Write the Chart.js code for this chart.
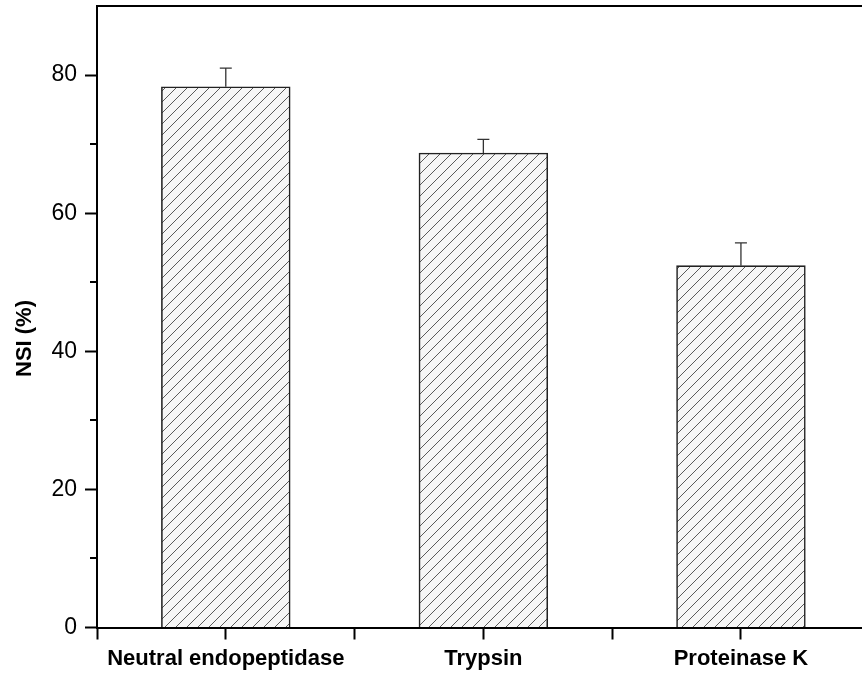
<!DOCTYPE html>
<html><head><meta charset="utf-8">
<script src="https://cdn.jsdelivr.net/npm/chart.js@4"></script>
<style>html,body{margin:0;padding:0;background:#fff;overflow:hidden}</style>
</head><body>
<canvas id="c" width="862" height="677"></canvas>
<script>
const categories = ['Neutral endopeptidase', 'Trypsin', 'Proteinase K'];
const xPositions = [1, 3, 5];
const nsiValues = [78.3, 68.7, 52.4];
const nsiErrors = [2.7, 2.0, 3.3];
const yMajorTicks = [0, 20, 40, 60, 80];
const yMinorTicks = [10, 30, 50, 70];
const yTitle = 'NSI (%)';

const FONT = "'Liberation Sans', Arial, sans-serif";

function hatchPattern() {
  const s = 11;
  const c = document.createElement('canvas');
  c.width = s; c.height = s;
  const g = c.getContext('2d');
  g.fillStyle = '#f6f6f6';
  g.fillRect(0, 0, s, s);
  g.strokeStyle = '#5a5a5a';
  g.lineWidth = 1;
  g.beginPath();
  g.moveTo(-1, s + 1); g.lineTo(s + 1, -1);
  g.moveTo(-1, 1); g.lineTo(1, -1);
  g.moveTo(s - 1, s + 1); g.lineTo(s + 1, s - 1);
  g.stroke();
  return document.getElementById('c').getContext('2d').createPattern(c, 'repeat');
}

const errorBars = {
  id: 'errorBars',
  afterDatasetsDraw(chart) {
    const ctx = chart.ctx;
    const meta = chart.getDatasetMeta(0);
    const ys = chart.scales.y;
    ctx.save();
    ctx.strokeStyle = '#333';
    ctx.lineWidth = 1.3;
    meta.data.forEach((bar, i) => {
      const yTop = ys.getPixelForValue(nsiValues[i] + nsiErrors[i]);
      ctx.beginPath();
      ctx.moveTo(bar.x, bar.y);
      ctx.lineTo(bar.x, yTop);
      ctx.moveTo(bar.x - 6, yTop);
      ctx.lineTo(bar.x + 6, yTop);
      ctx.stroke();
    });
    ctx.restore();
  }
};

const minorTicks = {
  id: 'minorTicks',
  afterDraw(chart) {
    const ctx = chart.ctx;
    const ys = chart.scales.y;
    const left = chart.chartArea.left;
    ctx.save();
    ctx.strokeStyle = '#000';
    ctx.lineWidth = 2;
    yMinorTicks.forEach(v => {
      const y = Math.round(ys.getPixelForValue(v));
      ctx.beginPath();
      ctx.moveTo(left - 7, y);
      ctx.lineTo(left, y);
      ctx.stroke();
    });
    ctx.restore();
  }
};

new Chart(document.getElementById('c'), {
  type: 'bar',
  data: {
    datasets: [{
      data: xPositions.map((x, i) => ({ x: x, y: nsiValues[i] })),
      backgroundColor: hatchPattern(),
      borderColor: '#222',
      borderWidth: 1.6,
      barPercentage: 1,
      categoryPercentage: 1,
      xAxisID: 'x',
      yAxisID: 'y'
    }]
  },
  options: {
    responsive: false,
    animation: false,
    devicePixelRatio: 1,
    layout: { padding: 0 },
    plugins: {
      legend: { display: false },
      tooltip: { enabled: false },
      title: {
        display: true,
        position: 'left',
        fullSize: true,
        text: yTitle,
        color: '#000',
        font: { family: FONT, size: 22, weight: 'bold', lineHeight: 1.2 },
        padding: { top: 12, bottom: 0 }
      }
    },
    scales: {
      x: {
        type: 'linear',
        position: 'bottom',
        offset: false,
        min: 0,
        max: 5.94,
        afterFit: s => { s.height = 49.5; s.paddingLeft = 0; s.paddingRight = 0; },
        ticks: {
          stepSize: 1,
          includeBounds: false,
          autoSkip: false,
          maxRotation: 0,
          padding: 6,
          color: '#000',
          font: { family: FONT, size: 22, weight: 'bold' },
          callback: v => { const i = xPositions.indexOf(v); return i >= 0 ? categories[i] : ''; }
        },
        grid: { offset: false, drawOnChartArea: false, tickLength: 12, tickWidth: 2, tickColor: '#000' },
        border: { display: true, width: 2, color: '#000' }
      },
      x2: {
        type: 'linear',
        position: 'top',
        offset: false,
        min: 0,
        max: 5.94,
        afterFit: s => { s.height = 6; s.paddingLeft = 0; s.paddingRight = 0; },
        ticks: { display: false },
        grid: { display: false },
        border: { display: true, width: 2, color: '#000' }
      },
      y: {
        min: 0,
        max: 90,
        afterFit: s => { s.width = 97 - 38.4; s.paddingTop = 0; s.paddingBottom = 0; },
        ticks: {
          stepSize: 10,
          padding: 8,
          color: '#000',
          font: { family: FONT, size: 23 },
          callback: v => yMajorTicks.includes(v) ? String(v) : ''
        },
        grid: {
          drawOnChartArea: false,
          tickLength: 12,
          tickWidth: 2,
          tickColor: c => yMajorTicks.includes(c.tick.value) ? '#000' : 'rgba(0,0,0,0)'
        },
        border: { display: true, width: 2, color: '#000' }
      }
    }
  },
  plugins: [errorBars, minorTicks]
});
</script>
</body></html>
